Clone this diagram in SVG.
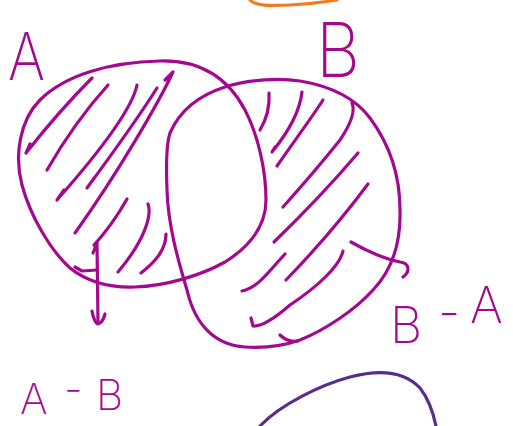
<svg xmlns="http://www.w3.org/2000/svg" width="513" height="426" viewBox="0 0 513 426">
<style>
.m{fill:none;stroke:#a3098f;stroke-width:3.2;stroke-linecap:round;stroke-linejoin:round}
.t{fill:#a3098f;font-family:Inter,"DejaVu Sans",sans-serif;font-weight:200}
</style>
<rect width="513" height="426" fill="#fff"/>
<path d="M 250,0 C 255,6 270,6 290,5 C 310,4 325,2 337,0" fill="none" stroke="#f47a20" stroke-width="3.2" stroke-linecap="round"/>
<path d="M 260,426 C 280,405 320,385 350,377 C 380,369 405,372 420,388 C 428,398 433,412 436,426" fill="none" stroke="#5a2d8c" stroke-width="3.2" stroke-linecap="round"/>
<g id="set-A">
<path class="m" d="M 160,61 C 200,60 228,78 245,110 C 258,135 266,170 266,200 C 266,225 252,245 225,262 C 200,276 165,286 135,287 C 105,288 85,280 70,268 C 50,250 30,215 22,185 C 14,155 20,120 40,100 C 65,75 110,62 160,61 Z"/>
<path class="m" d="M 92,78 C 70,100 48,125 26,153 M 26,153 L 30,144"/>
<path class="m" d="M 108,85 C 90,105 70,130 47,170"/>
<path class="m" d="M 137,85 C 133,105 110,140 57,200 M 57,200 L 64,190"/>
<path class="m" d="M 157,88 C 140,115 115,150 87,188 M 87,188 L 95,177"/>
<path class="m" d="M 165,80 L 173,72 C 160,100 120,170 75,233"/>
<path class="m" d="M 127,199 C 118,215 105,233 94,245"/>
<path class="m" d="M 148,204 C 152,215 145,240 118,272"/>
<path class="m" d="M 166,234 C 166,250 155,262 141,273"/>
</g>
<g id="set-B">
<path class="m" d="M 170,133 C 180,110 200,95 225,87 C 250,79 280,78 300,81 C 330,86 355,98 370,118 C 390,145 400,175 400,210 C 401,245 392,270 373,290 C 355,310 325,330 300,340 C 280,347 260,348 245,347 C 215,345 195,325 187,290 C 178,260 168,225 167,190 C 166,165 166,145 170,133 Z"/>
<path class="m" d="M 280,335 C 285,340 292,342 298,341"/>
<path class="m" d="M 269,93 C 270,108 266,120 260,130"/>
<path class="m" d="M 302,92 C 300,110 290,130 272,152 L 275,147"/>
<path class="m" d="M 323,100 C 310,120 295,140 277,166"/>
<path class="m" d="M 352,103 C 356,112 350,125 340,140 C 320,165 300,188 283,207"/>
<path class="m" d="M 358,153 C 335,180 305,212 274,242"/>
<path class="m" d="M 368,184 C 345,215 315,250 286,280"/>
<path class="m" d="M 285,254 C 270,270 258,288 242,291"/>
<path class="m" d="M 343,251 C 340,265 320,285 290,305 C 275,318 262,327 253,326 L 251,318"/>
</g>
<g id="connectors">
<path class="m" d="M 93,253 L 97,243 L 98,323"/>
<path class="m" d="M 92,311 C 93,318 96,324 98,324 C 102,323 104,318 105,314"/>
<path class="m" d="M 75,267 L 82,271 L 97,270"/>
<path class="m" d="M 351,242 C 365,250 380,258 400,262 C 410,263 410,272 403,277"/>
</g>
<g id="labels">
<text class="t" x="8" y="80" font-size="66" textLength="37" lengthAdjust="spacingAndGlyphs">A</text>
<text class="t" x="316" y="77" font-size="76" textLength="44" lengthAdjust="spacingAndGlyphs">B</text>
<text class="t" font-size="42"><tspan x="20" y="414">A</tspan><tspan x="64" y="404">-</tspan><tspan x="96" y="410">B</tspan></text>
<text class="t" font-size="50"><tspan x="390" y="343">B</tspan><tspan x="438" y="330">-</tspan><tspan x="470" y="323">A</tspan></text>
</g>
</svg>
